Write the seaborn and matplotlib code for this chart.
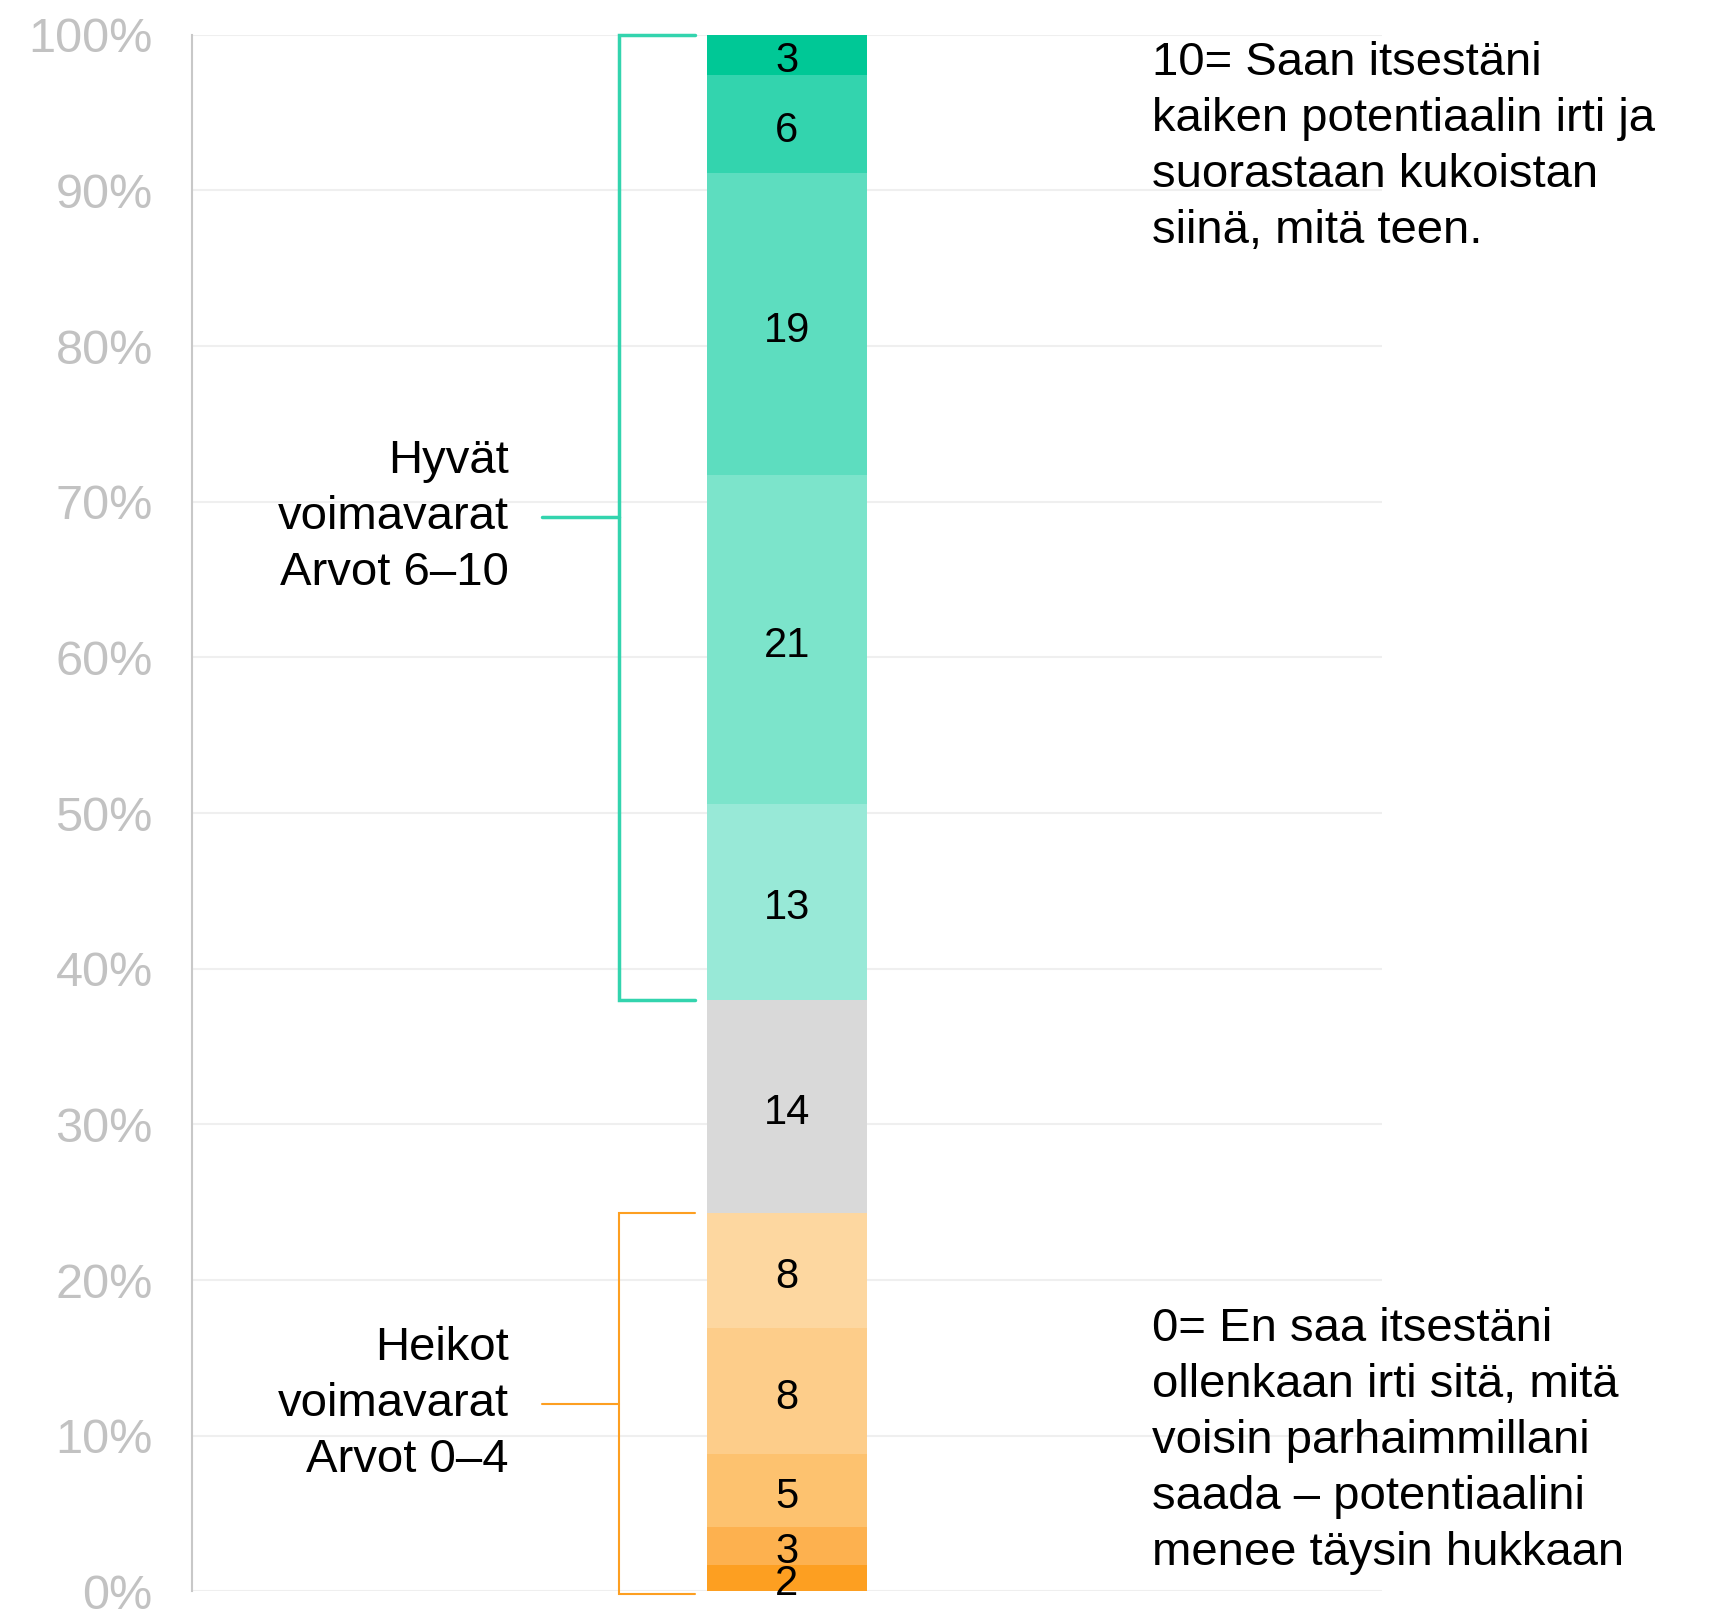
import matplotlib
matplotlib.use("Agg")
import matplotlib.pyplot as plt
import seaborn as sns
import numpy as np

# segments from bottom (value 0..4) to top (value 10)
shares = [1.7, 2.4, 4.7, 8.1, 7.4, 13.7, 12.6, 21.1, 19.4, 6.3, 2.6]
labels = ["2", "3", "5", "8", "8", "14", "13", "21", "19", "6", "3"]
colors = ["#FD9F21", "#FDB14F", "#FDC26F", "#FDCD8A", "#FDD7A0", "#D9D9D9",
          "#98E9D7", "#7CE4CB", "#5DDDBF", "#33D4AE", "#00C896"]
yticks = [0, 10, 20, 30, 40, 50, 60, 70, 80, 90, 100]
ytick_labels = [f"{t}%" for t in yticks]

good_label = "Hyvät\nvoimavarat\nArvot 6–10"
weak_label = "Heikot\nvoimavarat\nArvot 0–4"
top_note = "10= Saan itsestäni\nkaiken potentiaalin irti ja\nsuorastaan kukoistan\nsiinä, mitä teen."
bottom_note = ("0= En saa itsestäni\nollenkaan irti sitä, mitä\nvoisin parhaimmillani\n"
               "saada – potentiaalini\nmenee täysin hukkaan")

sns.set_theme(style="white")
plt.rcParams["font.family"] = ["Liberation Sans", "DejaVu Sans"]

fig = plt.figure(figsize=(17.09, 16.13), dpi=100)
ax = fig.add_axes([0.1122, 0.01345, 0.6966, 0.96495])

bottoms = np.concatenate([[0], np.cumsum(shares)[:-1]])
for s, b, c in zip(shares, bottoms, colors):
    sns.barplot(x=[0], y=[s], bottom=b, color=c, width=1.0, saturation=1,
                edgecolor="none", linewidth=0, ax=ax)

for s, b, lab in zip(shares, bottoms, labels):
    ax.text(0, b + s / 2 - 0.4, lab, ha="center", va="center", fontsize=30,
            color="black")

ax.set_xlim(-3.74, 3.74)
ax.set_ylim(0, 100)
ax.set_xticks([])
ax.set_xlabel("")
ax.set_ylabel("")
ax.set_yticks(yticks)
ax.set_yticklabels(ytick_labels, color="#C2C2C2", fontsize=35)
ax.tick_params(axis="y", length=0, pad=28)
ax.grid(axis="y", color="#EFEFEF", linewidth=1.5)
ax.set_axisbelow(True)
for side in ["top", "right", "bottom"]:
    ax.spines[side].set_visible(False)
ax.spines["left"].set_color("#C8C8C8")
ax.spines["left"].set_linewidth(1.5)

# brackets
cum = np.cumsum(shares)
green_lo, green_hi = cum[5], cum[-1]
orange_lo, orange_hi = -0.2, cum[4]
xv, xt, xm = -1.055, -0.58, -1.54


def bracket(lo, hi, col, lw):
    ax.plot([xt, xv, xv, xt], [hi, hi, lo, lo], color=col, lw=lw,
            clip_on=False, solid_joinstyle="miter")
    mid = (lo + hi) / 2
    ax.plot([xm, xv], [mid, mid], color=col, lw=lw, clip_on=False)
    return mid


gm = bracket(green_lo, green_hi, "#33D4AE", 2.5)
om = bracket(orange_lo, orange_hi, "#FD9F21", 1.5)

ax.text(-1.75, gm, good_label, ha="right", va="center", fontsize=34,
        linespacing=1.35, color="black")
ax.text(-1.75, om, weak_label, ha="right", va="center", fontsize=34,
        linespacing=1.35, color="black")
ax.text(2.295, 92.8, top_note, ha="left", va="center", fontsize=34,
        linespacing=1.35, color="black", clip_on=False)
ax.text(2.295, 9.66, bottom_note, ha="left", va="center", fontsize=34,
        linespacing=1.35, color="black", clip_on=False)

fig.savefig("out.png", dpi=100, facecolor="white")
